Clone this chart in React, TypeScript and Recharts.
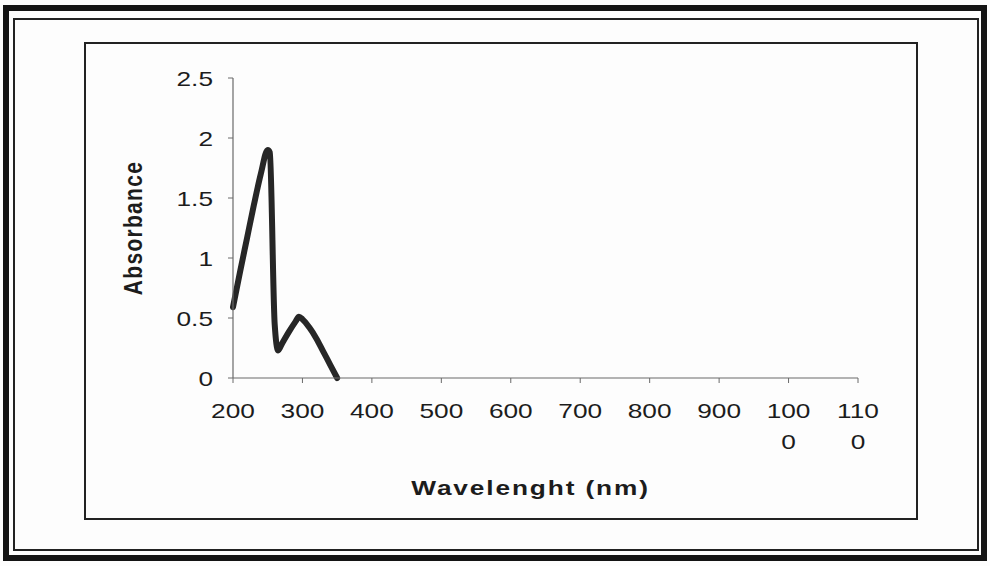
import React from "react";
import { LineChart, Line, XAxis, YAxis } from "recharts";

const wavelengths = [200, 210, 220, 230, 240, 250, 253, 260, 265, 270, 280, 290, 295, 300, 310, 320, 330, 340, 350];
const absorbance = [0.59, 0.88, 1.16, 1.44, 1.7, 1.9, 1.88, 0.45, 0.23, 0.28, 0.38, 0.47, 0.51, 0.49, 0.42, 0.33, 0.22, 0.11, 0.0];
const xTicks = [200, 300, 400, 500, 600, 700, 800, 900, 1000, 1100];
const yTicks = [0, 0.5, 1, 1.5, 2, 2.5];
const xTitle = "Wavelenght (nm)";
const yTitle = "Absorbance";

const data = wavelengths.map((w, i) => ({ w, a: absorbance[i] }));

const TEXT = "#1c1c1c";
const FONT = "'Liberation Sans', Arial, sans-serif";
const STRETCH = 1.25;

const XTick = (props: any) => {
  const { x, y, payload } = props;
  const s = String(payload.value);
  const lines = s.length > 3 ? [s.slice(0, 3), s.slice(3)] : [s];
  return (
    <text
      x={0}
      y={0}
      transform={`translate(${x}, ${y}) scale(${STRETCH}, 1)`}
      textAnchor="middle"
      fill={TEXT}
      fontSize={21}
      fontFamily={FONT}
    >
      {lines.map((l, i) => (
        <tspan key={i} x={0} dy={i === 0 ? "0.71em" : 31}>
          {l}
        </tspan>
      ))}
    </text>
  );
};

const YTick = (props: any) => {
  const { x, y, payload } = props;
  return (
    <text
      x={0}
      y={0}
      transform={`translate(${x}, ${y}) scale(${STRETCH}, 1)`}
      textAnchor="end"
      fill={TEXT}
      fontSize={21}
      fontFamily={FONT}
      dy="0.36em"
    >
      {String(payload.value)}
    </text>
  );
};

const YTitle = (props: any) => {
  const vb = props.viewBox || {};
  const cx = vb.x + vb.width - 100;
  const cy = vb.y + vb.height / 2;
  return (
    <text
      x={0}
      y={0}
      transform={`translate(${cx}, ${cy}) scale(${STRETCH}, 1) rotate(-90)`}
      textAnchor="middle"
      dominantBaseline="central"
      fontSize={21}
      fontWeight="bold"
      fontFamily={FONT}
      letterSpacing={1.3}
      fill={TEXT}
    >
      {yTitle}
    </text>
  );
};

const XTitle = (props: any) => {
  const vb = props.viewBox || {};
  const cx = vb.x + vb.width / 2 - 15;
  const cy = vb.y + 117;
  return (
    <text
      x={0}
      y={0}
      transform={`translate(${cx}, ${cy}) scale(${STRETCH}, 1)`}
      textAnchor="middle"
      fontSize={21}
      fontWeight="bold"
      fontFamily={FONT}
      letterSpacing={1.5}
      fill={TEXT}
    >
      {xTitle}
    </text>
  );
};

export default function App() {
  return (
    <div style={{ position: "relative", width: 990, height: 566, background: "#fdfdfd", overflow: "hidden" }}>
      <style>{"body{margin:0;}"}</style>
      <div
        style={{
          position: "absolute",
          left: 3,
          top: 5,
          width: 984,
          height: 556,
          border: "6px solid #141414",
          boxSizing: "border-box",
        }}
      />
      <div
        style={{
          position: "absolute",
          left: 13,
          top: 18,
          width: 966,
          height: 533,
          border: "2px solid #222",
          boxSizing: "border-box",
        }}
      />
      <div
        style={{
          position: "absolute",
          left: 84,
          top: 42,
          width: 834,
          height: 478,
          border: "2px solid #222",
          boxSizing: "border-box",
        }}
      />
      <div style={{ position: "absolute", left: 0, top: 0 }}>
        <LineChart width={990} height={566} data={data} margin={{ top: 78, right: 132, bottom: 158, left: 173 }}>
          <XAxis
            dataKey="w"
            type="number"
            domain={[200, 1100]}
            ticks={xTicks}
            interval={0}
            tick={<XTick />}
            tickSize={5}
            tickMargin={20}
            axisLine={{ stroke: "#6a6a6a", strokeWidth: 1.2 }}
            tickLine={{ stroke: "#6a6a6a" }}
            height={30}
            label={<XTitle />}
          />
          <YAxis
            type="number"
            domain={[0, 2.5]}
            ticks={yTicks}
            interval={0}
            width={60}
            tick={<YTick />}
            tickSize={5}
            tickMargin={15}
            axisLine={{ stroke: "#6a6a6a", strokeWidth: 1.2 }}
            tickLine={{ stroke: "#6a6a6a" }}
            label={<YTitle />}
          />
          <Line
            dataKey="a"
            type="monotone"
            stroke="#262626"
            strokeWidth={6}
            dot={false}
            strokeLinejoin="round"
            strokeLinecap="round"
            isAnimationActive={false}
          />
        </LineChart>
      </div>
    </div>
  );
}
